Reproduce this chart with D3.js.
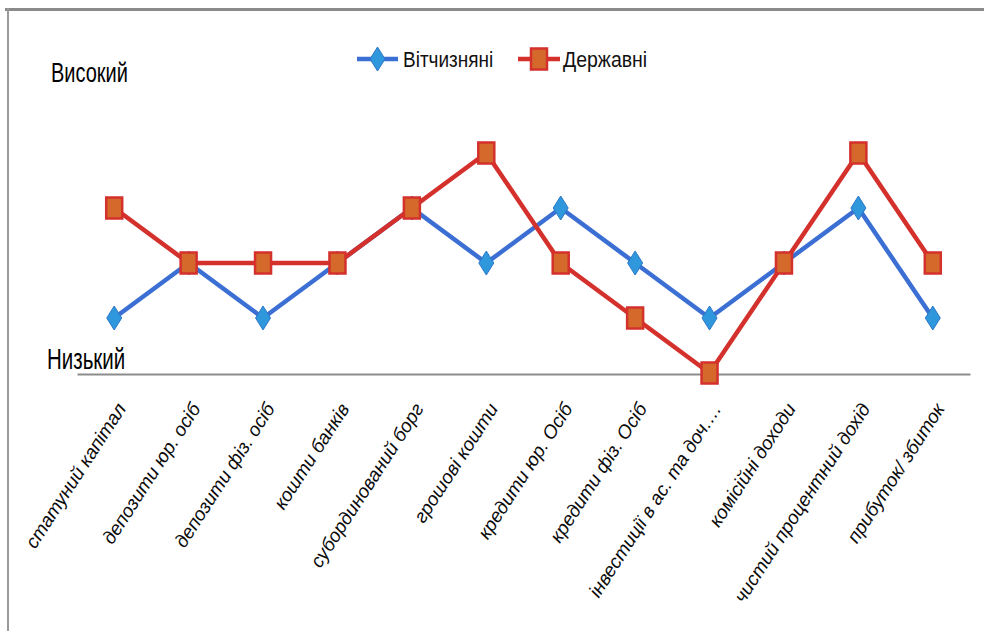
<!DOCTYPE html>
<html><head><meta charset="utf-8">
<script src="https://cdn.jsdelivr.net/npm/d3@7"></script>
<style>body{margin:0;background:#fff}svg{display:block}</style>
</head><body>
<svg id="c" width="984" height="631"></svg>
<script>
const categories = ["статуний капітал","депозити юр. осіб","депозити фіз. осіб","кошти банків","субординований борг","грошові кошти","кредити юр. Осіб","кредити фіз. Осіб","інвестиції в ас. та доч.…","комісійні доходи","чистий процентний дохід","прибуток/ збиток"];
const seriesNames = ["Вітчизняні","Державні"];
const domestic = [1,2,1,2,3,2,3,2,1,2,3,1];
const state    = [3,2,2,2,3,4,2,1,0,2,4,2];
const levelLabels = ["Високий","Низький"];

const svg = d3.select("#c");
const FONT = "'Liberation Sans', Arial, sans-serif";

// frame
svg.append("rect").attr("x",5).attr("y",8).attr("width",979).attr("height",3).attr("fill","#8a8a8a");
svg.append("rect").attr("x",7).attr("y",8).attr("width",2).attr("height",623).attr("fill","#9a9a9a");

const x = d3.scalePoint().domain(categories).range([77,970]).padding(0.5);
const y = d3.scaleLinear().domain([0,4]).range([373,153]);

// axis line
const xAxis = d3.axisBottom(x).tickSize(0).tickFormat("");
const gx = svg.append("g").attr("transform","translate(0,374)").call(xAxis);
gx.select(".domain").attr("stroke","#8c8c8c").attr("stroke-width",2);

// category labels
svg.append("g").selectAll("text").data(categories).join("text")
  .attr("transform", d => `translate(${x(d)+7},${405}) rotate(-57)`)
  .attr("text-anchor","end").attr("dy","0.35em")
  .attr("font-family",FONT).attr("font-style","italic").attr("font-size",19)
  .attr("fill","#0a0a0a").text(d=>d);

// level labels
svg.append("text").attr("transform",`translate(51,82) scale(1,1.4)`)
  .attr("font-family",FONT).attr("font-size",20).attr("fill","#000").text(levelLabels[0]);
svg.append("text").attr("transform",`translate(47,369) scale(1,1.4)`)
  .attr("font-family",FONT).attr("font-size",20.5).attr("fill","#000").text(levelLabels[1]);

const line = d3.line().x((d,i)=>x(categories[i])).y(d=>y(d));
const blueLine = "#3b6fd3", blueFill = "#2f97dc", redLine = "#d4302c", redFill = "#d4692b";

function diamond(g, cx, cy){
  g.append("path").attr("d",`M${cx},${cy-12}L${cx+7.5},${cy}L${cx},${cy+12}L${cx-7.5},${cy}Z`)
   .attr("fill",blueFill).attr("stroke","#2b78c9").attr("stroke-width",1);
}
function square(g, cx, cy){
  g.append("rect").attr("x",cx-8).attr("y",cy-10.5).attr("width",16).attr("height",21)
   .attr("fill",redFill).attr("stroke",redLine).attr("stroke-width",2.5);
}

svg.append("path").datum(domestic).attr("d",line).attr("fill","none")
  .attr("stroke",blueLine).attr("stroke-width",4.5).attr("stroke-linejoin","round");
const gB = svg.append("g");
domestic.forEach((v,i)=>diamond(gB, x(categories[i]), y(v)));

svg.append("path").datum(state).attr("d",line).attr("fill","none")
  .attr("stroke",redLine).attr("stroke-width",4.5).attr("stroke-linejoin","round");
const gR = svg.append("g");
state.forEach((v,i)=>square(gR, x(categories[i]), y(v)));

// legend
const lg = svg.append("g");
lg.append("line").attr("x1",357).attr("x2",398).attr("y1",59).attr("y2",59).attr("stroke",blueLine).attr("stroke-width",4.5);
diamond(lg, 377.5, 59);
lg.append("text").attr("transform",`translate(403,67) scale(1,1.12)`)
  .attr("font-family",FONT).attr("font-size",19).attr("fill","#111").text(seriesNames[0]);
lg.append("line").attr("x1",518).attr("x2",560).attr("y1",59).attr("y2",59).attr("stroke",redLine).attr("stroke-width",4.5);
square(lg, 539, 59);
lg.append("text").attr("transform",`translate(563,67) scale(1,1.12)`)
  .attr("font-family",FONT).attr("font-size",19.5).attr("fill","#111").text(seriesNames[1]);
</script>
</body></html>
